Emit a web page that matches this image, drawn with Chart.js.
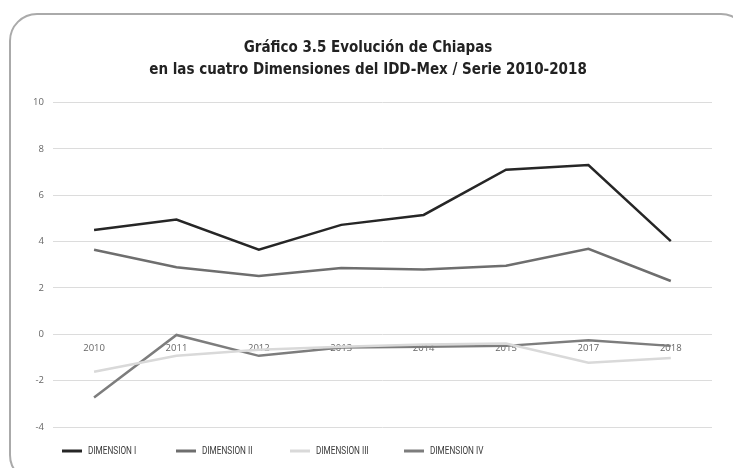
<!DOCTYPE html>
<html>
<head>
<meta charset="utf-8">
<script src="https://cdn.jsdelivr.net/npm/chart.js@4"></script>
<style>
  html, body { margin: 0; padding: 0; background: #fff; overflow: hidden; }
  #frame {
    position: absolute; left: 9px; top: 13px; width: 740px; height: 470px;
    border: 2.5px solid #aaa; border-radius: 28px; box-sizing: border-box;
  }
  #wrap { position: absolute; left: 0; top: 0; width: 733px; height: 468px; }
</style>
</head>
<body>
<div id="frame"></div>
<div id="wrap"><canvas id="chiapas"></canvas></div>
<script>
const years = ['2010', '2011', '2012', '2013', '2014', '2015', '2017', '2018'];
const dimension1 = [4.5, 4.95, 3.65, 4.72, 5.15, 7.1, 7.3, 4.02];
const dimension2 = [3.65, 2.89, 2.52, 2.86, 2.8, 2.96, 3.69, 2.3];
const dimension3 = [-1.62, -0.93, -0.67, -0.54, -0.44, -0.4, -1.23, -1.02];
const dimension4 = [-2.73, -0.03, -0.93, -0.57, -0.54, -0.5, -0.26, -0.5];
const seriesNames = ['DIMENSION I', 'DIMENSION II', 'DIMENSION III', 'DIMENSION IV'];
const seriesColors = ['#262626', '#6e6e6e', '#d9d9d9', '#7d7d7d'];

// legend laid out in even slots like the original (Excel style)
const slotLegend = {
    id: 'slotLegend',
    afterDraw(chart) {
        const c = chart.ctx;
        const y = 451;
        c.save();
        c.textBaseline = 'middle';
        c.fillStyle = '#3a3a3a';
        chart.data.datasets.forEach((ds, i) => {
            const x = 62 + i * 114;
            c.strokeStyle = ds.borderColor;
            c.lineWidth = 3;
            c.beginPath();
            c.moveTo(x, y);
            c.lineTo(x + 20, y);
            c.stroke();
            // narrow the label a bit, the source font is condensed
            c.save();
            c.translate(x + 26, y + 0.5);
            c.scale(0.82, 1);
            c.font = '10px Roboto';
            c.fillText(ds.label, 0, 0);
            c.restore();
        });
        c.restore();
    }
};

const ctx = document.getElementById('chiapas').getContext('2d');

let chiapasChart = new Chart(ctx, {
    type: 'line',
    data: {
        labels: years,
        datasets: [dimension1, dimension2, dimension3, dimension4].map((d, i) => ({
            label: seriesNames[i],
            data: d,
            borderColor: seriesColors[i],
            backgroundColor: seriesColors[i],
            borderWidth: 2.5,
            pointRadius: 0,
            tension: 0,
            fill: false
        }))
    },
    plugins: [slotLegend],
    options: {
        responsive: true,
        maintainAspectRatio: false,
        animation: false,
        layout: { padding: { left: 24, right: 21, top: 37, bottom: 41 } },
        plugins: {
            title: {
                display: true,
                text: ['Gráfico 3.5 Evolución de Chiapas', 'en las cuatro Dimensiones del IDD-Mex / Serie 2010-2018'],
                color: '#222',
                font: { family: 'DejaVu Sans Condensed', size: 15, weight: 'bold', lineHeight: 1.45 },
                padding: { top: 0, bottom: 22 }
            },
            legend: { display: false },
            tooltip: { enabled: false }
        },
        scales: {
            x: {
                position: { y: 0 },
                offset: true,
                grid: { display: false, drawTicks: false },
                border: { display: false },
                ticks: { color: '#666', font: { family: 'Open Sans', size: 9.5 }, padding: 8, maxRotation: 0 }
            },
            y: {
                min: -4,
                max: 10,
                ticks: { stepSize: 2, color: '#666', font: { family: 'Open Sans', size: 9.5 }, padding: 9 },
                grid: { color: '#dcdcdc', lineWidth: 1, drawTicks: false },
                border: { display: false }
            }
        }
    }
});
</script>
</body>
</html>
